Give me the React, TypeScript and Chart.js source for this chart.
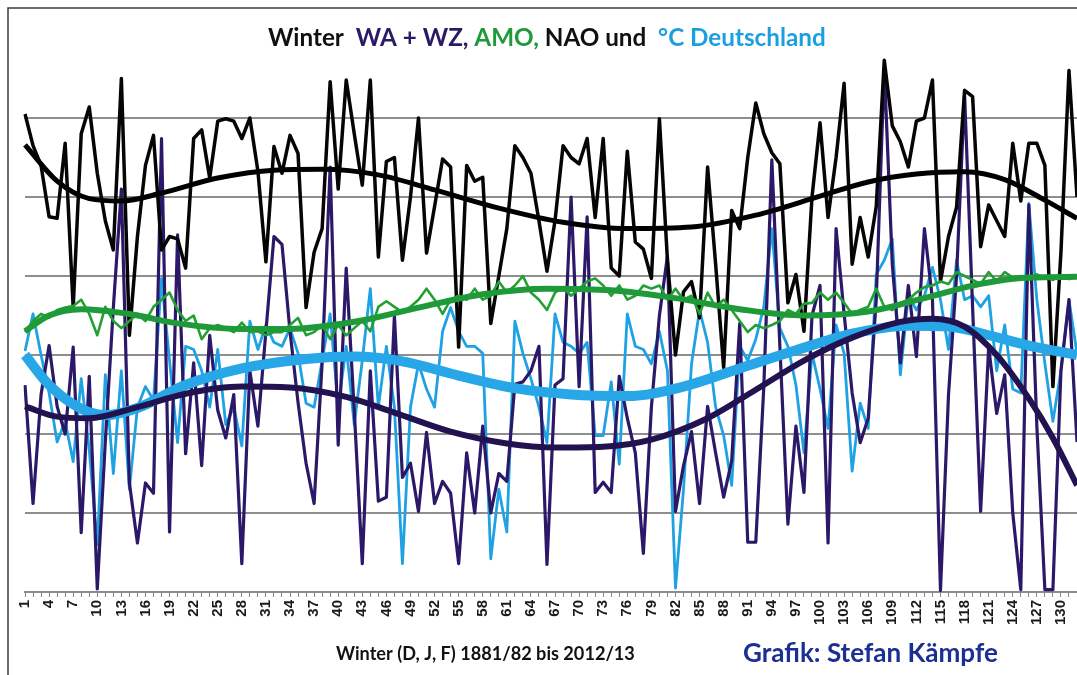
import React, { useEffect, useRef } from 'react';
import { Chart, registerables } from 'chart.js';

Chart.register(...registerables);

// Winter index 1 = 1881/82 ... 132 = 2012/13
const winters: string[] = Array.from({ length: 132 }, (_, i) => String(i + 1));

// NAO (black)
const nao: number[] = [
  6.05, 5.65, 5.4, 4.75, 4.73, 5.68, 3.6, 5.8, 6.14, 5.3,
  4.7, 4.33, 6.5, 3.25, 4.5, 5.4, 5.78, 4.33, 4.5, 4.47,
  4.1, 5.74, 5.85, 5.24, 5.96, 5.99, 5.96, 5.74, 6.0, 5.33,
  4.18, 5.64, 5.3, 5.78, 5.55, 3.6, 4.3, 4.6, 6.46, 5.1,
  6.48, 5.8, 5.15, 6.48, 4.24, 5.45, 5.5, 4.2, 5.0, 6.0,
  4.29, 4.88, 5.48, 5.38, 3.1, 5.4, 5.2, 5.25, 3.4, 4.0,
  4.6, 5.65, 5.5, 5.3, 4.7, 4.06, 4.7, 5.65, 5.5, 5.42,
  5.74, 4.74, 5.74, 4.1, 4.0, 5.58, 4.43, 4.34, 3.97, 5.99,
  4.2, 3.0, 3.8, 3.93, 3.47, 5.38, 4.15, 2.84, 4.83, 4.6,
  5.5, 6.19, 5.8, 5.56, 5.42, 3.66, 4.02, 3.3, 5.0, 5.94,
  4.74, 5.5, 6.44, 4.15, 4.74, 4.24, 4.88, 6.73, 5.9, 5.7,
  5.38, 5.96, 6.0, 6.48, 3.93, 4.5, 4.87, 6.35, 6.27, 4.37,
  4.9, 4.7, 4.5, 5.68, 4.95, 5.68, 5.68, 5.4, 2.6, 4.3,
  6.6, 5.0,
];

// WA + WZ (dark purple)
const waWz: number[] = [
  2.62, 1.12, 2.5, 3.12, 2.35, 2.0, 3.1, 0.75, 2.73, 0.04,
  1.9, 3.6, 5.1, 1.38, 0.62, 1.38, 1.25, 5.74, 0.76, 4.52,
  1.75, 2.9, 1.6, 3.25, 2.3, 1.95, 2.5, 0.36, 2.8, 2.1,
  3.3, 4.5, 4.4, 3.3, 2.4, 1.63, 1.12, 2.9, 5.38, 1.86,
  4.1, 2.3, 0.36, 2.8, 1.15, 1.2, 3.5, 1.45, 1.63, 1.02,
  2.02, 1.12, 1.4, 1.25, 0.36, 1.76, 1.0, 2.1, 1.0, 1.5,
  1.4, 2.63, 2.66, 2.8, 3.11, 0.35, 2.62, 2.7, 5.0, 2.6,
  4.75, 1.26, 1.39, 1.26, 2.73, 2.2, 1.76, 0.49, 2.34, 3.5,
  4.25, 1.02, 1.6, 2.03, 1.12, 2.35, 1.76, 1.2, 1.66, 3.4,
  0.63, 0.63, 2.6, 5.47, 3.11, 0.86, 2.1, 1.26, 3.5, 3.88,
  0.62, 4.6, 3.52, 2.52, 1.89, 2.2, 3.7, 6.65, 4.15, 2.9,
  3.88, 2.98, 4.6, 3.7, 0.02, 2.5, 4.0, 6.3, 3.6, 1.02,
  3.1, 2.26, 2.75, 1.0, 0.03, 4.9, 2.1, 0.03, 0.03, 2.8,
  3.7, 1.9,
];

// AMO (green)
const amo: number[] = [
  3.29, 3.43, 3.52, 3.47, 3.57, 3.6, 3.62, 3.7, 3.52, 3.25,
  3.61, 3.43, 3.34, 3.43, 3.52, 3.43, 3.61, 3.7, 3.79, 3.57,
  3.43, 3.5, 3.2, 3.34, 3.38, 3.34, 3.29, 3.41, 3.29, 3.3,
  3.25, 3.29, 3.29, 3.38, 3.47, 3.25, 3.29, 3.38, 3.2, 3.38,
  3.25, 3.34, 3.43, 3.3, 3.61, 3.68, 3.61, 3.54, 3.61, 3.7,
  3.84, 3.7, 3.52, 3.7, 3.75, 3.7, 3.84, 3.7, 3.75, 3.93,
  3.79, 3.88, 4.0, 3.79, 3.7, 3.57, 3.79, 3.86, 3.75, 3.84,
  3.93, 3.97, 3.88, 3.75, 3.88, 3.7, 3.75, 3.88, 3.84, 3.88,
  3.7, 3.84, 3.7, 3.75, 3.52, 3.79, 3.61, 3.7, 3.57, 3.43,
  3.29, 3.38, 3.34, 3.38, 3.43, 3.57, 3.52, 3.65, 3.66, 3.79,
  3.7, 3.79, 3.66, 3.52, 3.57, 3.61, 3.84, 3.61, 3.57, 3.66,
  3.7, 3.79, 3.86, 3.88, 3.93, 3.9, 4.05, 4.0, 3.95, 3.9,
  4.05, 3.93, 4.05, 3.98, 4.0, 3.95, 4.02, 3.98, 3.95, 4.0,
  3.96, 4.0,
];

// °C Deutschland (light blue)
const tempDE: number[] = [
  3.05, 3.52, 3.0, 2.52, 1.9, 2.16, 1.65, 2.7, 1.8, 0.6,
  2.75, 1.5, 2.8, 1.3, 2.34, 2.6, 2.43, 3.97, 2.93, 1.89,
  3.11, 3.07, 2.8, 2.34, 3.07, 2.12, 2.34, 1.85, 3.43, 3.07,
  3.38, 3.16, 3.11, 3.34, 3.02, 2.39, 2.34, 2.93, 3.52, 2.34,
  3.11, 2.12, 2.93, 3.84, 2.34, 3.11, 2.34, 0.36, 2.34, 2.89,
  2.57, 2.34, 3.3, 3.6, 3.3, 3.11, 3.11, 3.02, 0.42, 1.3,
  0.76, 3.43, 3.02, 2.7, 2.34, 1.89, 3.52, 3.16, 3.11, 3.02,
  3.16, 1.98, 1.98, 2.66, 1.62, 3.52, 3.11, 3.07, 2.89, 3.3,
  2.8, 0.05, 1.3, 2.89, 3.57, 3.16, 2.34, 1.98, 1.35, 3.11,
  2.93, 3.2, 3.61, 4.6, 3.34, 3.11, 2.62, 1.76, 3.02, 2.57,
  2.07, 3.38, 3.02, 1.53, 2.39, 2.07, 4.02, 4.2, 4.47, 2.75,
  3.75, 3.57, 3.75, 4.11, 3.7, 3.07, 4.2, 3.7, 3.75, 3.61,
  3.75, 2.8, 3.38, 2.57, 2.52, 4.92, 3.7, 2.89, 2.16, 2.8,
  3.7, 3.02,
];

// Polynomial trend curves, read at selected winters
const naoTrendAt: number[] = [1, 5, 9, 13, 18, 25, 32, 38, 45, 52, 60, 68, 76, 84, 92, 100, 106, 112, 118, 123, 128, 132];
const naoTrend: number[] = [5.66, 5.2, 4.98, 4.95, 5.05, 5.24, 5.34, 5.35, 5.28, 5.09, 4.86, 4.68, 4.6, 4.62, 4.77, 5.01, 5.19, 5.29, 5.32, 5.22, 4.96, 4.73];

const amoTrendAt: number[] = [1, 4, 8, 14, 20, 28, 34, 42, 50, 58, 66, 74, 82, 90, 98, 106, 113, 120, 126, 132];
const amoTrend: number[] = [3.3, 3.5, 3.58, 3.52, 3.4, 3.33, 3.33, 3.42, 3.6, 3.77, 3.84, 3.82, 3.72, 3.58, 3.5, 3.55, 3.72, 3.9, 3.98, 3.99];

const tempTrendAt: number[] = [1, 4, 8, 11, 15, 21, 28, 36, 42, 48, 55, 62, 69, 76, 83, 90, 97, 104, 111, 116, 121, 126, 132];
const tempTrend: number[] = [3.0, 2.62, 2.32, 2.24, 2.33, 2.62, 2.83, 2.95, 2.98, 2.92, 2.74, 2.58, 2.5, 2.48, 2.6, 2.83, 3.06, 3.27, 3.37, 3.36, 3.25, 3.12, 3.0];

const waWzTrendAt: number[] = [1, 5, 9, 15, 21, 28, 34, 41, 47, 54, 61, 67, 73, 79, 86, 92, 98, 104, 110, 114, 118, 122, 126, 129, 132];
const waWzTrend: number[] = [2.35, 2.22, 2.2, 2.34, 2.51, 2.6, 2.59, 2.47, 2.27, 2.03, 1.88, 1.83, 1.84, 1.93, 2.2, 2.56, 2.93, 3.22, 3.42, 3.46, 3.36, 3.0, 2.45, 1.95, 1.35];

const titleParts = [
  { text: 'Winter  ', color: '#111111' },
  { text: 'WA + WZ, ', color: '#2b1a64' },
  { text: 'AMO, ', color: '#1f9a3a' },
  { text: 'NAO und  ', color: '#111111' },
  { text: '°C Deutschland', color: '#1c9fe0' },
];
const xAxisCaption = 'Winter (D, J, F) 1881/82 bis 2012/13';
const credit = 'Grafik: Stefan Kämpfe';

const W = 1077;
const H = 675;

function sparse(at: number[], vals: number[]): (number | null)[] {
  const arr: (number | null)[] = winters.map(() => null);
  at.forEach((w, k) => {
    arr[w - 1] = vals[k];
  });
  return arr;
}

const fitText = (ctx: CanvasRenderingContext2D, text: string, fam: string, width: number) => {
  ctx.font = `bold 20px ${fam}`;
  const w = ctx.measureText(text).width;
  return (20 * width) / w;
};

const textPlugin = {
  id: 'texts',
  afterDraw(chart: any) {
    const ctx: CanvasRenderingContext2D = chart.ctx;
    ctx.save();
    // outer frame
    ctx.strokeStyle = '#3c3c3c';
    ctx.lineWidth = 1.5;
    ctx.beginPath();
    ctx.moveTo(8, H);
    ctx.lineTo(8, 8);
    ctx.lineTo(W, 8);
    ctx.stroke();

    const fam = 'Lato, "Open Sans", sans-serif';
    // title
    const full = titleParts.map((p) => p.text).join('');
    const ts = fitText(ctx, full, fam, 558);
    ctx.font = `bold ${ts}px ${fam}`;
    ctx.textBaseline = 'middle';
    ctx.textAlign = 'left';
    let x = 268;
    for (const p of titleParts) {
      ctx.fillStyle = p.color;
      ctx.fillText(p.text, x, 38);
      x += ctx.measureText(p.text).width;
    }
    // axis caption
    const cs = fitText(ctx, xAxisCaption, fam, 299);
    ctx.font = `bold ${cs}px ${fam}`;
    ctx.fillStyle = '#111111';
    ctx.fillText(xAxisCaption, 336, 654);
    // credit
    const gs = fitText(ctx, credit, fam, 255);
    ctx.font = `bold ${gs}px ${fam}`;
    ctx.fillStyle = '#1c2f92';
    ctx.fillText(credit, 743, 654);
    ctx.restore();
  },
};

export default function App() {
  const ref = useRef<HTMLCanvasElement | null>(null);

  useEffect(() => {
    document.body.style.margin = '0';
    const canvas = ref.current;
    if (!canvas) return;

    const dataLine = (label: string, data: (number | null)[], color: string, width: number) => ({
      label,
      data,
      borderColor: color,
      backgroundColor: color,
      borderWidth: width,
      pointRadius: 0,
      tension: 0,
      fill: false,
      borderJoinStyle: 'round' as const,
    });
    const trendLine = (label: string, data: (number | null)[], color: string, width: number) => ({
      label,
      data,
      borderColor: color,
      backgroundColor: color,
      borderWidth: width,
      pointRadius: 0,
      spanGaps: true,
      cubicInterpolationMode: 'monotone' as const,
      fill: false,
    });

    const chart = new Chart(canvas, {
      type: 'line',
      data: {
        labels: winters,
        datasets: [
          trendLine('AMO Trend', sparse(amoTrendAt, amoTrend), '#1f9a38', 6),
          trendLine('NAO Trend', sparse(naoTrendAt, naoTrend), '#000000', 5),
          trendLine('WA + WZ Trend', sparse(waWzTrendAt, waWzTrend), '#22124f', 6),
          trendLine('°C Trend', sparse(tempTrendAt, tempTrend), '#27a7e8', 10),
          dataLine('AMO', amo, '#22a033', 2.6),
          dataLine('NAO', nao, '#050505', 3.5),
          dataLine('WA + WZ', waWz, '#2c1868', 3.2),
          dataLine('°C Deutschland', tempDE, '#1ea2e4', 2.8),
        ],
      },
      options: {
        responsive: false,
        animation: false,
        layout: { padding: { left: 25, right: 0, top: 39, bottom: 0 } },
        plugins: {
          legend: { display: false },
          title: { display: false },
          tooltip: { enabled: false },
        },
        scales: {
          x: {
            type: 'category',
            offset: false,
            grid: {
              drawOnChartArea: false,
              drawTicks: true,
              tickLength: 5,
              color: '#8a8a8a',
              lineWidth: 1,
            },
            border: { display: true, color: '#8a8a8a', width: 2 },
            ticks: {
              autoSkip: false,
              minRotation: 90,
              maxRotation: 90,
              padding: 3,
              color: '#1a1a1a',
              font: { family: '"Liberation Sans", Arial, sans-serif', size: 15, weight: 'bold' },
              callback: (_v: any, i: number) => (i % 3 === 0 ? winters[i] : ''),
            },
            afterFit: (scale: any) => {
              scale.height = H - 592;
              scale.paddingLeft = 0;
              scale.paddingRight = 0;
            },
          },
          y: {
            min: 0,
            max: 7,
            ticks: { display: false, stepSize: 1 },
            grid: {
              drawTicks: false,
              lineWidth: 2,
              color: (c: any) => (c.tick && c.tick.value === 7 ? 'rgba(0,0,0,0)' : '#8e8e8e'),
            },
            border: { display: false },
            afterFit: (scale: any) => {
              scale.width = 0;
            },
          },
        },
      },
      plugins: [textPlugin],
    });

    return () => chart.destroy();
  }, []);

  return <canvas ref={ref} width={W} height={H} style={{ display: 'block', width: W, height: H }} />;
}
